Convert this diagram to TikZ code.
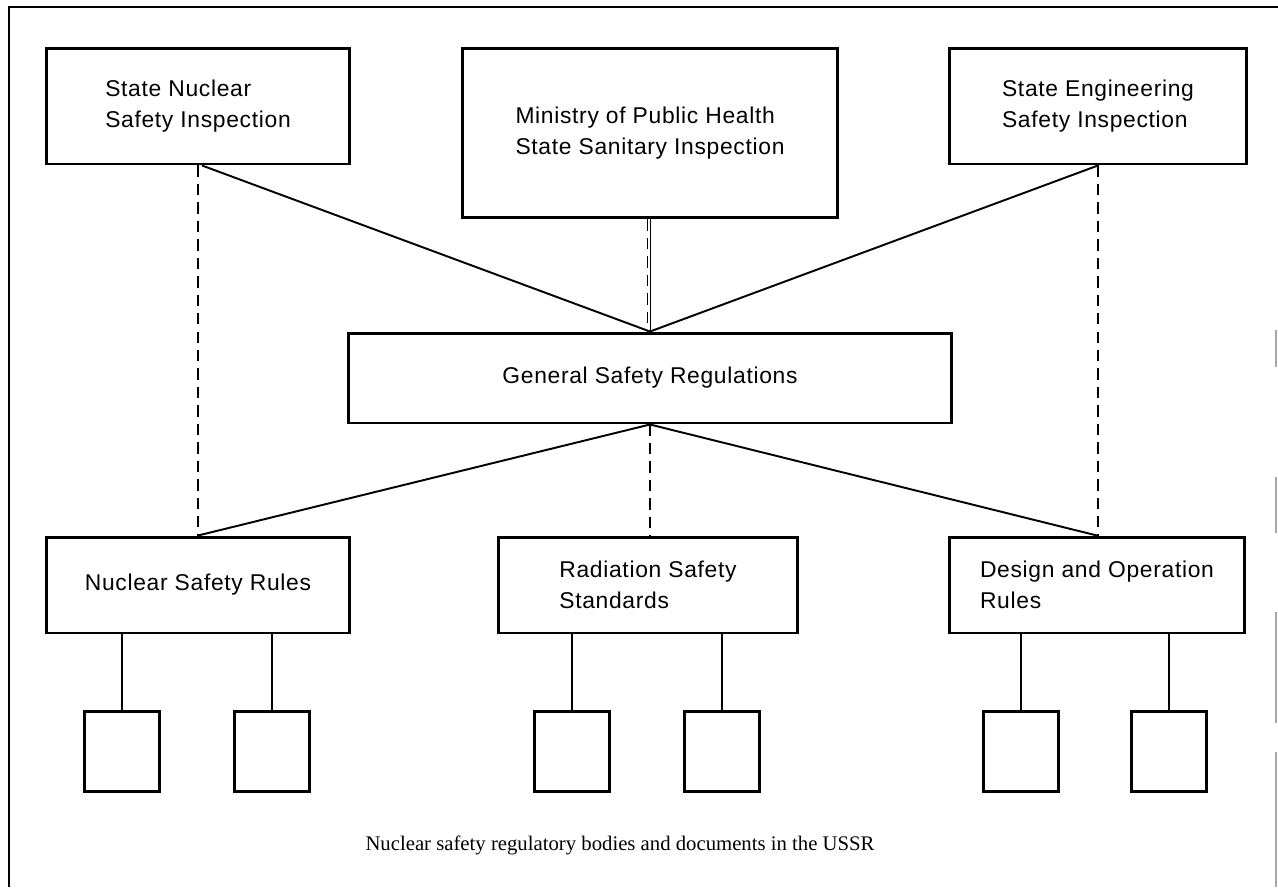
\documentclass[tikz,border=0pt]{standalone}
\usepackage{fontspec}
\setmainfont{Liberation Serif}
\setsansfont{Liberation Sans}
\newfontfamily\boxfont[LetterSpace=3]{Liberation Sans}
\begin{document}
\begin{tikzpicture}[x=0.02cm,y=-0.02cm,
    box/.style={draw,line width=1.7pt,align=left,inner sep=0pt,
      font=\boxfont\fontsize{13}{18}\selectfont},
    leaf/.style={draw,line width=1.7pt,minimum width=1.5cm,minimum height=1.6cm,inner sep=0pt},
    link/.style={line width=1.1pt},
    dashlink/.style={line width=1.1pt,dash pattern=on 6.5pt off 4pt}]
  \useasboundingbox (0,0) rectangle (1278,887);
  % frame
  \draw[link] (9,887) -- (9,7) -- (1278,7);
  \draw[black!35,line width=0.6pt] (1276,330) -- (1276,367) (1276,477) -- (1276,533)
    (1276,612) -- (1276,723) (1276,752) -- (1276,887);
  % bodies
  \node[box,minimum width=6.08cm,minimum height=2.32cm] (snsi) at (198,106) {State Nuclear\\Safety Inspection};
  \node[box,minimum width=7.5cm,minimum height=3.4cm] (mph) at (650,133) {Ministry of Public Health\\State Sanitary Inspection};
  \node[box,minimum width=5.94cm,minimum height=2.32cm] (sesi) at (1098,106) {State Engineering\\Safety Inspection};
  \node[box,minimum width=12.08cm,minimum height=1.8cm] (gsr) at (650,378) {General Safety Regulations};
  % documents
  \node[box,minimum width=6.08cm,minimum height=1.92cm] (nsr) at (198,585) {Nuclear Safety Rules};
  \node[box,minimum width=6cm,minimum height=1.92cm] (rss) at (648,585) {Radiation Safety\\Standards};
  \node[box,minimum width=5.92cm,minimum height=1.92cm] (dor) at (1097,585) {Design and Operation\\Rules};
  \foreach \p/\a/\b in {nsr/122/272, rss/572/722, dor/1021/1169}{
    \node[leaf] (\p-1) at (\a,751) {};
    \node[leaf] (\p-2) at (\b,751) {};
    \draw[link] (\p-1.north |- \p.south) -- (\p-1.north);
    \draw[link] (\p-2.north |- \p.south) -- (\p-2.north);
  }
  % links
  \draw[dashlink] (snsi.south) -- (nsr.north);
  \draw[dashlink] (sesi.south) -- (sesi.south |- dor.north);
  \draw[link] ([xshift=0.08cm]snsi.south) -- (gsr.north);
  \draw[link] (sesi.south) -- (gsr.north);
  \draw[dashlink] ([xshift=-0.05cm]mph.south) -- ([xshift=-0.05cm]gsr.north);
  \draw[link] ([xshift=0.01cm]mph.south) -- ([xshift=0.01cm]gsr.north);
  \draw[link] (gsr.south) -- (nsr.north);
  \draw[link] (gsr.south) -- (dor.north);
  \draw[dashlink] (gsr.south) -- (gsr.south |- rss.north);
  \node[font=\fontsize{11.8}{14}\selectfont] (cap) at (620,845) {Nuclear safety regulatory bodies and documents in the USSR};
\end{tikzpicture}
\end{document}
